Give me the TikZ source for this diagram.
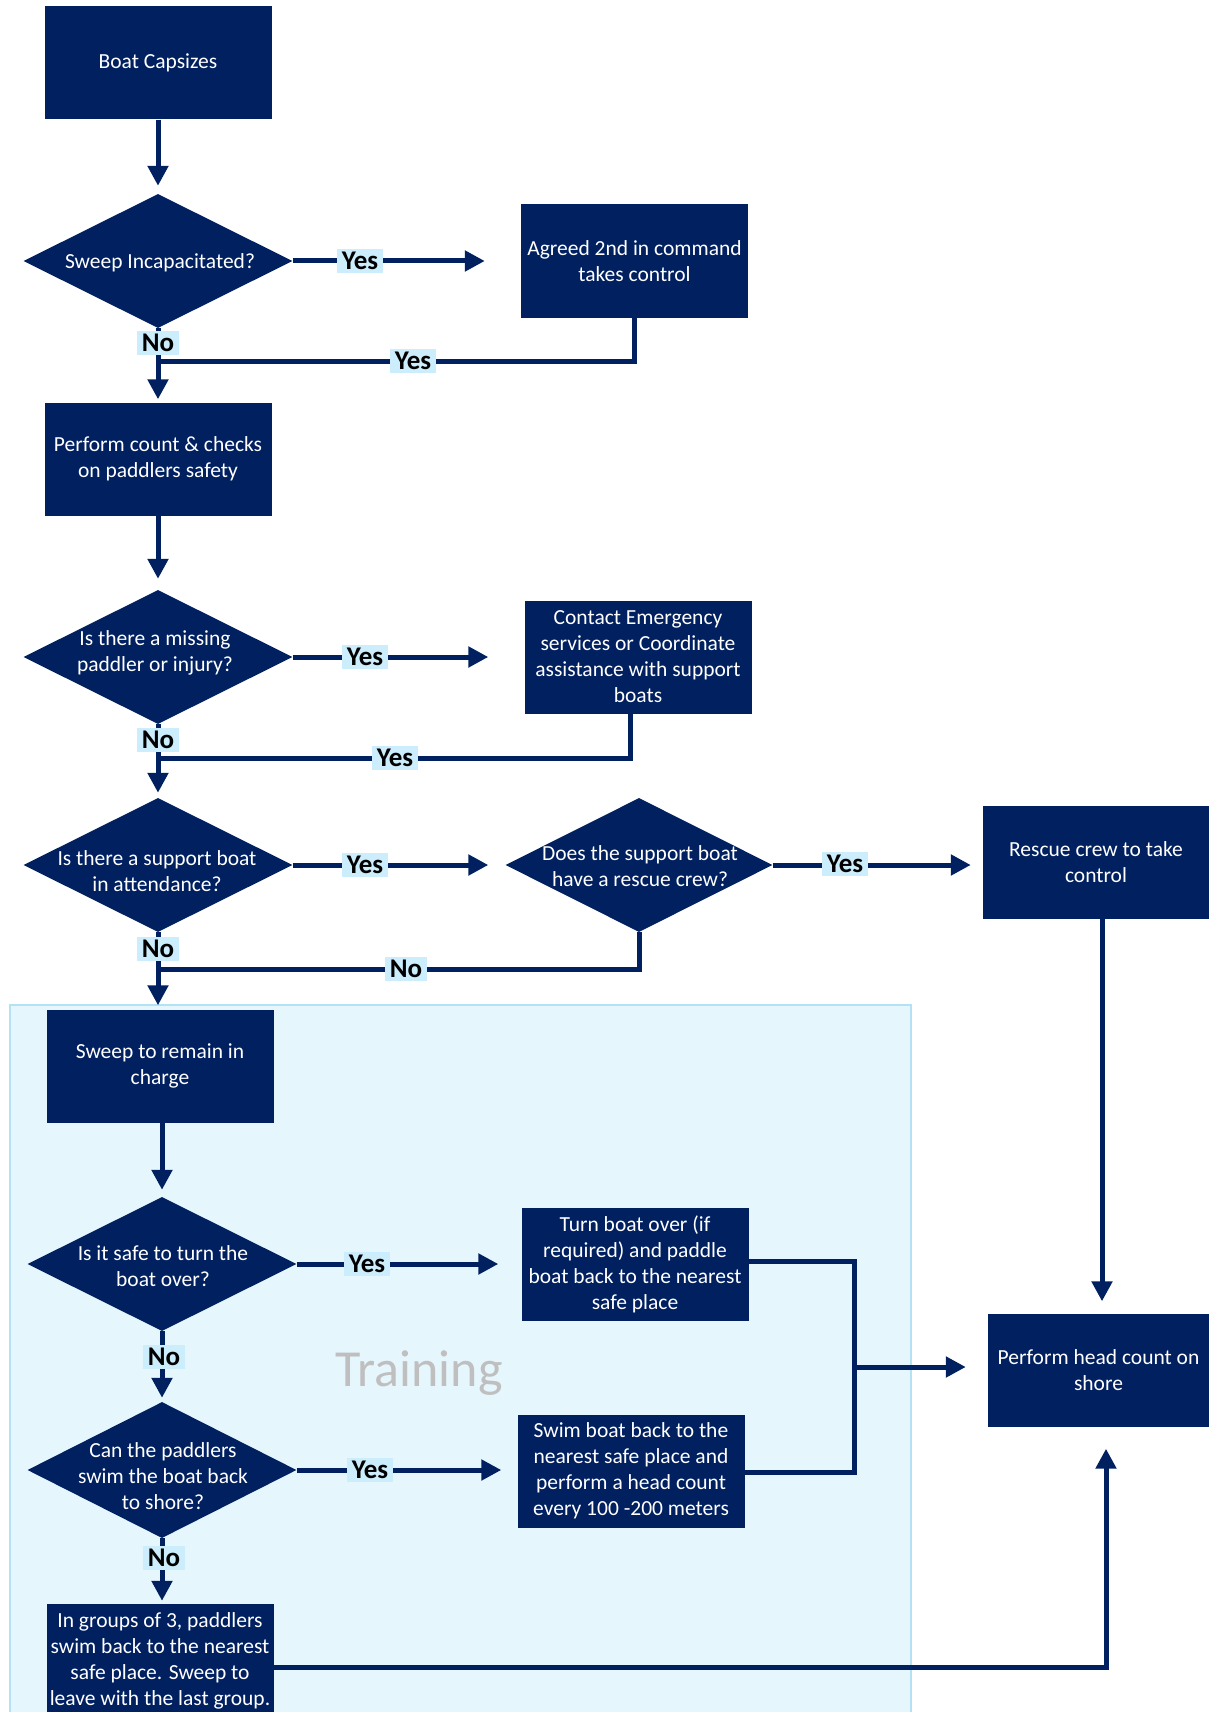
\documentclass[tikz,border=0pt]{standalone}
\usepackage{fontspec}
\setmainfont{Carlito}
\usetikzlibrary{shapes.geometric,arrows.meta,calc}
\definecolor{navy}{RGB}{0,32,96}
\definecolor{labbg}{RGB}{204,238,252}
\definecolor{trainbg}{RGB}{229,246,253}
\definecolor{trainbd}{RGB}{180,226,245}
\definecolor{traintxt}{RGB}{191,191,191}
\begin{document}
\begin{tikzpicture}[x=1pt,y=-1pt,
  procbox/.style={fill=navy, text=white, minimum width=227pt, minimum height=113pt, inner sep=0pt, align=center, font=\fontsize{21.5}{26}\selectfont},
  dia/.style={diamond, fill=navy, minimum width=269pt, minimum height=134pt, inner sep=0pt},
  diatext/.style={text=white, align=center, inner sep=0pt, font=\fontsize{21.5}{26}\selectfont},
  conn/.style={draw=navy, line width=5pt},
  arr/.style={conn, -{Triangle[length=20pt,width=20pt]}},
  lab/.style={fill=labbg, text=black, font=\bfseries\fontsize{27}{28}\selectfont, inner xsep=5pt, inner ysep=3pt},
]
\useasboundingbox (0,0) rectangle (1209,1712);

% training area
\node[draw=trainbd, fill=trainbg, line width=1.5pt, minimum width=901pt, minimum height=730pt, inner sep=0pt, anchor=north west] (trainarea) at (9,1004) {};
\node[text=traintxt, font=\fontsize{52}{60}\selectfont, anchor=base] (trainlbl) at (419,1386) {Training};

% nodes
\node[procbox] (capsize) at (158,63) {Boat Capsizes};
\node[dia] (d1) at (158,261) {};
\node[diatext] (d1t) at (160,263) {Sweep Incapacitated?};
\node[procbox] (agreed) at (634.5,261) {Agreed 2nd in command\\takes control};
\node[procbox] (count) at (158,459) {Perform count \& checks\\on paddlers safety};
\node[dia] (d2) at (158,657) {};
\node[diatext] (d2t) at (155,653) {Is there a missing\\paddler or injury?};
\node[procbox] (contact) at (638,657) {Contact Emergency\\services or Coordinate\\assistance with support\\boats};
\node[dia] (d3) at (158,865) {};
\node[diatext] (d3t) at (157,871) {Is there a support boat\\in attendance?};
\node[dia, minimum width=267pt] (d4) at (639,865) {};
\node[diatext] (d4t) at (640,866) {Does the support boat\\have a rescue crew?};
\node[procbox, minimum width=226pt] (rescue) at (1096,862) {Rescue crew to take\\control};
\node[procbox] (remain) at (160,1066) {Sweep to remain in\\charge};
\node[dia] (d5) at (162,1264) {};
\node[diatext] (d5t) at (163,1266) {Is it safe to turn the\\boat over?};
\node[procbox] (turn) at (635,1264) {Turn boat over (if\\required) and paddle\\boat back to the nearest\\safe place};
\node[dia, minimum height=136pt] (d6) at (162,1470) {};
\node[diatext] (d6t) at (163,1476) {Can the paddlers\\swim the boat back\\to shore?};
\node[procbox] (swim) at (631,1471) {Swim boat back to the\\nearest safe place and\\perform a head count\\every 100 -200 meters};
\node[procbox, minimum height=114pt] (groups) at (160,1661) {In groups of 3, paddlers\\swim back to the nearest\\safe place. Sweep to\\leave with the last group.};
\node[procbox, minimum width=221pt] (headcount) at (1098.5,1370) {Perform head count on\\shore};

% coordinates
\coordinate (j1) at (158,361);
\coordinate (j2) at (158,758);
\coordinate (j3) at (158,969);
\coordinate (m) at (854,1367);
\coordinate (r1) at ($(rescue.south)+(6,0)$);
\coordinate (r2) at ($(headcount.north)+(3.5,0)$);
\coordinate (g1) at ($(groups.east)+(0,6)$);
\coordinate (h1) at ($(headcount.south)+(7.5,0)$);

% connectors
\draw[arr, shorten >=8pt] (capsize.south) -- (d1.north);
\draw[arr, shorten >=36pt] (d1.east) -- (agreed.west);
\draw[conn] (agreed.south) |- (j1);
\draw[arr, shorten >=3pt] (d1.south) -- (count.north);
\draw[arr, shorten >=11pt] (count.south) -- (d2.north);
\draw[arr, shorten >=36pt] (d2.east) -- (contact.west);
\draw[conn] ($(contact.south)+(-8,0)$) |- (j2);
\draw[arr, shorten >=5pt] (d2.south) -- (d3.north);
\draw[arr, shorten >=17pt] (d3.east) -- (d4.west);
\draw[arr, shorten >=12pt] (d4.east) -- (d4.east -| rescue.west);
\draw[conn] (d4.south) |- (j3);
\draw[arr, shorten >=4pt] (d3.south) -- (d3.south |- remain.north);
\draw[arr, shorten >=7pt] (remain.south -| d5.north) -- (d5.north);
\draw[arr, shorten >=23pt] (d5.east) -- (turn.west);
\draw[arr, shorten >=4pt] (d5.south) -- (d6.north);
\draw[arr, shorten >=16pt] (d6.east) -- (d6.east -| swim.west);
\draw[arr, shorten >=3pt] (d6.south) -- (d6.south |- groups.north);
\draw[conn] ($(turn.east)+(0,-3)$) -| (m) |- ($(swim.east)+(0,1)$);
\draw[arr, shorten >=22pt] (m) -- (m -| headcount.west);
\draw[arr, shorten >=12pt] (r1) -- (r2);
\draw[arr, shorten >=22pt] (g1) -| (h1);

% labels
\node[lab] (y1) at (360,261) {Yes};
\node[lab] (n1) at (158,343) {No};
\node[lab] (y2) at (413,361) {Yes};
\node[lab] (y3) at (365,657) {Yes};
\node[lab] (n2) at (158,740) {No};
\node[lab] (y4) at (395,758) {Yes};
\node[lab] (y5) at (365,865) {Yes};
\node[lab] (y6) at (845,864) {Yes};
\node[lab] (n3) at (158,949) {No};
\node[lab] (n4) at (406,969) {No};
\node[lab] (y7) at (367,1264) {Yes};
\node[lab] (n5) at (164,1357) {No};
\node[lab] (y8) at (370,1470) {Yes};
\node[lab] (n6) at (164,1558) {No};
\end{tikzpicture}
\end{document}
